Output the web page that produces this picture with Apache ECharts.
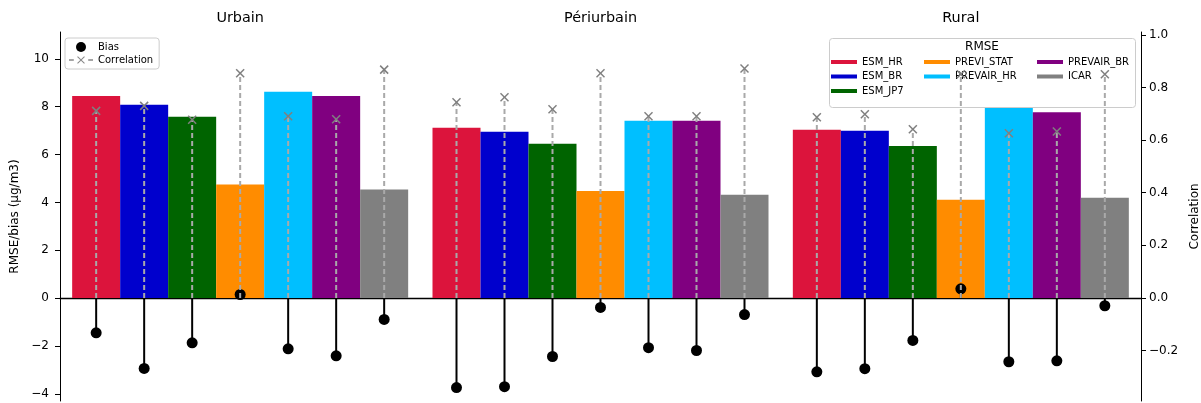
<!DOCTYPE html>
<html>
<head>
<meta charset="utf-8">
<script src="https://cdn.jsdelivr.net/npm/echarts@6/dist/echarts.min.js"></script>
<style>html,body{margin:0;padding:0;background:#fff;}#chart{width:1201px;height:403px;}</style>
</head>
<body>
<div id="chart"></div>
<script>
// ---- data ----
const groups = ['Urbain', 'Périurbain', 'Rural'];
const models = ['ESM_HR', 'ESM_BR', 'ESM_JP7', 'PREVI_STAT', 'PREVAIR_HR', 'PREVAIR_BR', 'ICAR'];
const modelColors = ['#DC143C', '#0000CD', '#006400', '#FF8C00', '#00BFFF', '#800080', '#808080'];

const rmseUrbain     = [8.45, 8.08, 7.58, 4.75, 8.62, 8.45, 4.54];
const rmsePeriurbain = [7.12, 6.95, 6.45, 4.48, 7.41, 7.41, 4.32];
const rmseRural      = [7.03, 6.99, 6.36, 4.11, 7.98, 7.77, 4.19];

const biasUrbain     = [-1.45, -2.94, -1.87, 0.15, -2.12, -2.41, -0.89];
const biasPeriurbain = [-3.74, -3.70, -2.44, -0.39, -2.07, -2.19, -0.69];
const biasRural      = [-3.08, -2.95, -1.77, 0.39, -2.66, -2.62, -0.32];

const corrUrbain     = [0.711, 0.730, 0.677, 0.854, 0.691, 0.679, 0.868];
const corrPeriurbain = [0.744, 0.763, 0.717, 0.854, 0.691, 0.691, 0.872];
const corrRural      = [0.687, 0.698, 0.641, 0.850, 0.626, 0.633, 0.850];

const leftTicks  = [-4, -2, 0, 2, 4, 6, 8, 10];
const rightTicks = [-0.2, 0, 0.2, 0.4, 0.6, 0.8, 1.0];

// ---- build ----
const rmseByGroup = [rmseUrbain, rmsePeriurbain, rmseRural];
const biasByGroup = [biasUrbain, biasPeriurbain, biasRural];
const corrByGroup = [corrUrbain, corrPeriurbain, corrRural];

const BAR_W = 48;
const FONT = 'DejaVu Sans';
const minus = s => String(s).replace('-', '\u2212');

const biasData = [], corrData = [];
groups.forEach((g, gi) => {
  models.forEach((m, mi) => {
    biasData.push([gi, mi, biasByGroup[gi][mi]]);
    corrData.push([gi, mi, corrByGroup[gi][mi]]);
  });
});

function xPos(api, gi, mi) {
  const c = api.coord([gi, 0]);
  return c[0] + (mi - (models.length - 1) / 2) * BAR_W;
}

function renderBias(params, api) {
  const gi = api.value(0), mi = api.value(1), v = api.value(2);
  const x = xPos(api, gi, mi);
  const y0 = api.coord([gi, 0])[1];
  const y1 = api.coord([gi, v])[1];
  return {
    type: 'group',
    children: [
      { type: 'line', shape: { x1: x, y1: y0, x2: x, y2: y1 }, style: { stroke: '#000', lineWidth: 2 } },
      { type: 'circle', shape: { cx: x, cy: y1, r: 5.5 }, style: { fill: '#000' } }
    ]
  };
}

function renderCorr(params, api) {
  const gi = api.value(0), mi = api.value(1), v = api.value(2);
  const x = xPos(api, gi, mi);
  const y0 = api.coord([gi, 0])[1];
  const y1 = api.coord([gi, v])[1];
  const s = 4;
  return {
    type: 'group',
    children: [
      { type: 'line', shape: { x1: x, y1: y0, x2: x, y2: y1 }, style: { stroke: '#a9a9a9', lineWidth: 2, lineDash: [5, 3] } },
      { type: 'line', shape: { x1: x - s, y1: y1 - s, x2: x + s, y2: y1 + s }, style: { stroke: '#7f7f7f', lineWidth: 1.5 } },
      { type: 'line', shape: { x1: x - s, y1: y1 + s, x2: x + s, y2: y1 - s }, style: { stroke: '#7f7f7f', lineWidth: 1.5 } }
    ]
  };
}

const barSeries = models.map((m, mi) => ({
  name: m,
  type: 'bar',
  xAxisIndex: 0,
  yAxisIndex: 0,
  barWidth: BAR_W,
  barGap: '0%',
  itemStyle: { color: modelColors[mi] },
  data: rmseByGroup.map(arr => arr[mi]),
  z: 2
}));

const corrIcon = 'path://M0,4.4h4v1.2h-4z M16,4.4h4v1.2h-4z M6.8,2.4L7.4,1.8L10,4.4L12.6,1.8L13.2,2.4L10.6,5L13.2,7.6L12.6,8.2L10,5.6L7.4,8.2L6.8,7.6L9.4,5z';

const legendText = { fontFamily: FONT, fontSize: 10, color: '#000' };
function modelLegend(names, left) {
  return {
    orient: 'vertical', left: left, top: 57, padding: 0,
    itemWidth: 26, itemHeight: 4, itemGap: 4.5, icon: 'rect',
    textStyle: legendText, data: names, z: 4, selectedMode: false
  };
}

const option = {
  animation: false,
  textStyle: { fontFamily: FONT },
  grid: { left: 60, right: 60, top: 32, bottom: 2, containLabel: false, outerBoundsMode: 'none' },
  xAxis: [
    {
      type: 'category', data: groups, position: 'bottom',
      axisLine: { onZero: true, onZeroAxisIndex: 0, lineStyle: { color: '#000', width: 1.3 } },
      axisTick: { show: false }, axisLabel: { show: false }, splitLine: { show: false }
    },
    {
      type: 'category', data: groups, position: 'top',
      axisLine: { show: false }, axisTick: { show: false },
      axisLabel: { show: true, fontFamily: FONT, fontSize: 14.4, color: '#000', margin: 7 }
    }
  ],
  yAxis: [
    {
      type: 'value', position: 'left', min: -4.30, max: 11.12,
      axisLine: { show: true, lineStyle: { color: '#000', width: 1 } },
      axisTick: { show: true, length: 5, customValues: leftTicks, lineStyle: { color: '#000' } },
      axisLabel: { customValues: leftTicks, fontFamily: FONT, fontSize: 12, color: '#000', margin: 11,
                   formatter: v => minus(v) },
      splitLine: { show: false },
      name: 'RMSE/bias (\u03bcg/m3)', nameLocation: 'middle', nameGap: 36,
      nameTextStyle: { fontFamily: FONT, fontSize: 12, color: '#000' }
    },
    {
      type: 'value', position: 'right', min: -0.392, max: 1.011,
      axisLine: { show: true, lineStyle: { color: '#000', width: 1 } },
      axisTick: { show: true, length: 5, customValues: rightTicks, lineStyle: { color: '#000' } },
      axisLabel: { customValues: rightTicks, fontFamily: FONT, fontSize: 12, color: '#000', margin: 8,
                   formatter: v => minus(Number(v).toFixed(1)) },
      splitLine: { show: false },
      name: 'Correlation', nameLocation: 'middle', nameGap: 44, nameRotate: 90,
      nameTextStyle: { fontFamily: FONT, fontSize: 12, color: '#000' }
    }
  ],
  legend: [
    {
      orient: 'vertical', left: 65, top: 38,
      padding: [4, 6, 4, 4], itemGap: 3, itemWidth: 24, itemHeight: 10,
      borderColor: '#cccccc', borderWidth: 1, borderRadius: 3, backgroundColor: 'rgba(255,255,255,0.8)',
      textStyle: legendText, selectedMode: false, z: 4,
      data: [
        { name: 'Bias', icon: 'circle', itemStyle: { color: '#000' } },
        { name: 'Correlation', icon: corrIcon, itemStyle: { color: '#888' } }
      ]
    },
    modelLegend(models.slice(0, 3), 831),
    modelLegend(models.slice(3, 5), 924),
    modelLegend(models.slice(5, 7), 1037)
  ],
  graphic: [
    {
      type: 'rect', left: 829, top: 38, z: 3,
      shape: { width: 306, height: 69, r: 3 },
      style: { fill: 'rgba(255,255,255,0.8)', stroke: '#cccccc', lineWidth: 1 }
    },
    {
      type: 'text', x: 982, y: 41, z: 4,
      style: { text: 'RMSE', font: '12px "DejaVu Sans"', fill: '#000', textAlign: 'center' }
    }
  ],
  series: barSeries.concat([
    {
      name: 'Bias', type: 'custom', xAxisIndex: 0, yAxisIndex: 0,
      renderItem: renderBias, encode: { x: 0, y: 2 }, data: biasData,
      itemStyle: { color: '#000' }, z: 3
    },
    {
      name: 'Correlation', type: 'custom', xAxisIndex: 0, yAxisIndex: 1,
      renderItem: renderCorr, encode: { x: 0, y: 2 }, data: corrData,
      itemStyle: { color: '#888' }, z: 5
    }
  ])
};

const chart = echarts.init(document.getElementById('chart'), null, { renderer: 'canvas' });
chart.setOption(option);
</script>
</body>
</html>
